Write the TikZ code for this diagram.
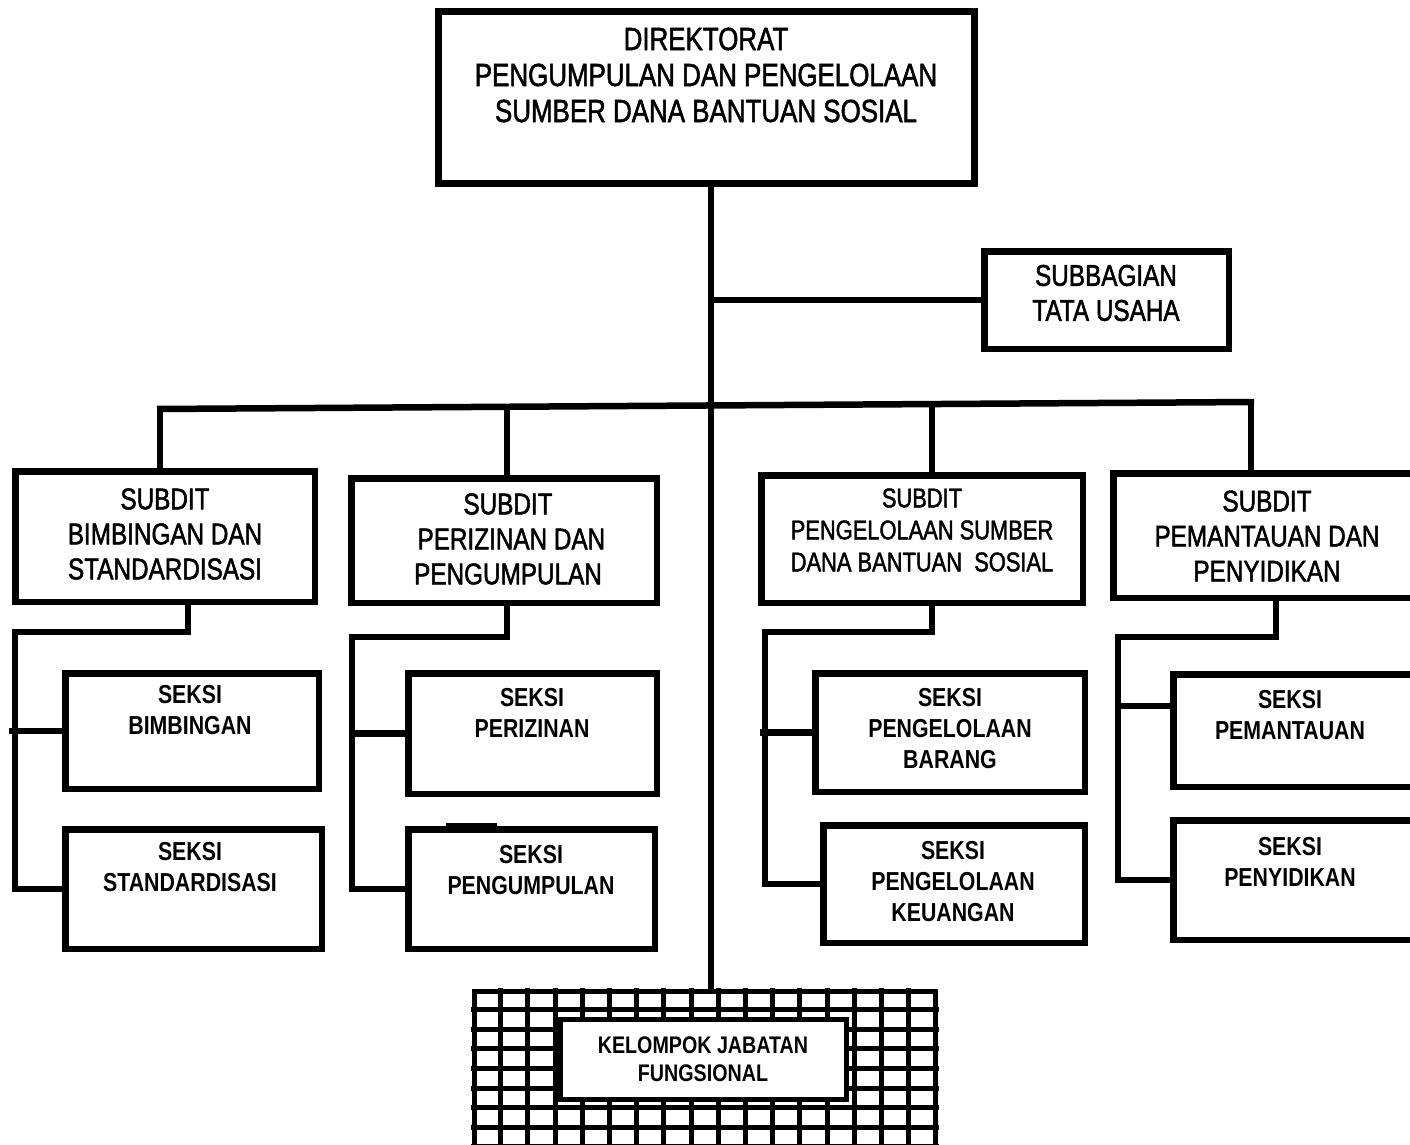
\documentclass[tikz,border=0pt]{standalone}
\usepackage{fontspec}
\setmainfont{Liberation Sans}[FakeStretch=0.82]
\newfontfamily\medf{Liberation Sans}[FakeStretch=0.81,FakeBold=1.6]
\usetikzlibrary{calc}
\tikzset{
  bx/.style={draw, line width=6.5pt, fill=white, inner sep=0pt, outer sep=0pt, rectangle},
  ln/.style={line width=6.5pt},
  gl/.style={line width=5pt},
  ttop/.style={font=\medf\fontsize{32}{36}\selectfont, align=center, inner sep=0pt},
  tsub/.style={font=\medf\fontsize{30}{35}\selectfont, align=center, inner sep=0pt},
  tsubs/.style={font=\medf\fontsize{27}{32}\selectfont, align=center, inner sep=0pt},
  tsek/.style={font=\bfseries\fontsize{26}{31}\selectfont, align=center, inner sep=0pt},
  tkjf/.style={font=\bfseries\fontsize{24}{28}\selectfont, align=center, inner sep=0pt},
}
\newcommand\mkbox[6][]{\node[bx,#1, minimum width={#5-#3-6.5}, minimum height={#6-#4-6.5}] (#2) at ({(#3+#5)/2},{(#4+#6)/2}) {};}
\begin{document}
\begin{tikzpicture}[x=1pt,y=-1pt]
\useasboundingbox (0,0) rectangle (1410,1145);
\clip (0,0) rectangle (1410,1145);
\fill[white] (0,0) rectangle (1410,1145);

% named helper coordinates
\coordinate (tx) at (711,0);
\coordinate (barL) at (157,409);
\coordinate (barR) at (1254,402);
\coordinate (d1) at (160,409);
\coordinate (d2) at (507,406.8);
\coordinate (d3) at (932,404);
\coordinate (d4) at (1251,402);

% boxes
\mkbox[line width=7pt]{top}{435}{8}{978}{187}
\mkbox{tu}{981}{248}{1232}{352}
\mkbox{sd1}{12}{468}{318}{605}
\mkbox{sd2}{348}{475}{660}{606}
\mkbox{sd3}{758}{472}{1086}{606}
\mkbox{sd4}{1110}{470}{1440}{601}
\mkbox{skA}{62}{670}{322}{792}
\mkbox{skB}{62}{826}{325}{952}
\mkbox{skC}{405}{670}{660}{797}
\mkbox{skD}{405}{826}{658}{952}
\mkbox{skE}{812}{670}{1088}{795}
\mkbox{skF}{820}{822}{1088}{946}
\mkbox{skG}{1170}{671}{1440}{790}
\mkbox{skH}{1170}{817}{1440}{943}

% grid block
\mkbox[line width=5pt]{grid}{471}{988}{939}{1160}
\foreach \i in {1,...,16} \draw[gl] ({473.5+\i*27.2},988) -- ({473.5+\i*27.2},1160);
\foreach \j in {1,...,8} \draw[gl] (471,{990+\j*19.6}) -- (939,{990+\j*19.6});
\mkbox[line width=5pt]{kjf}{557}{1016}{850}{1103}

% trunk and main branches
\draw[ln] (top.south -| tx) -- (grid.north -| tx);
\draw[ln] (tu.west) -- (tu.west -| tx);
\draw[ln] (barL) -- (barR);
\draw[ln] (d1) -- (d1 |- sd1.north);
\draw[ln] (d2) -- (d2 |- sd2.north);
\draw[ln] (d3) -- (d3 |- sd3.north);
\draw[ln] (d4) -- (d4 |- sd4.north);

% group 1
\coordinate (a1) at (188,632);
\coordinate (b1) at (15,632);
\draw[ln] (a1 |- sd1.south) -- (a1) -- (b1) -- (b1 |- skB.west) -- (skB.west);
\draw[ln] ([xshift=-6pt]b1 |- skA.west) -- (skA.west);
% group 2
\coordinate (a2) at (507,637);
\coordinate (b2) at (352,637);
\draw[ln] (a2 |- sd2.south) -- (a2) -- (b2) -- (b2 |- skD.west) -- (skD.west);
\draw[ln] (b2 |- skC.west) -- (skC.west);
\draw[ln] ($(skD.north west)+(38,-3)$) -- ++(51,0);
% group 3
\coordinate (a3) at (932,632);
\coordinate (b3) at (765,632);
\draw[ln] (a3 |- sd3.south) -- (a3) -- (b3) -- (b3 |- skF.west) -- (skF.west);
\draw[ln] ([xshift=-5pt]b3 |- skE.west) -- (skE.west);
% group 4
\coordinate (a4) at (1276,637);
\coordinate (b4) at (1118,637);
\coordinate (y4) at (0,706);
\draw[ln] (a4 |- sd4.south) -- (a4) -- (b4) -- (b4 |- skH.west) -- (skH.west);
\draw[ln] (b4 |- y4) -- (skG.west |- y4);

% texts
\node[ttop] (ttop) at (706,75) {DIREKTORAT\\PENGUMPULAN DAN PENGELOLAAN\\SUMBER DANA BANTUAN SOSIAL};
\node[tsub] (ttu) at (1106,293) {SUBBAGIAN\\TATA USAHA};
\node[tsub] (tsd1) at (165,534) {SUBDIT\\BIMBINGAN DAN\\STANDARDISASI};
\node[tsub] (tsd2) at (508,539) {SUBDIT\\\ PERIZINAN DAN\\PENGUMPULAN};
\node[tsubs] (tsd3) at (922,530) {SUBDIT\\PENGELOLAAN SUMBER\\DANA BANTUAN\ \ SOSIAL};
\node[tsub] (tsd4) at (1267,536) {SUBDIT\\PEMANTAUAN DAN\\PENYIDIKAN};
\node[tsek] (tA) at (190,710) {SEKSI\\BIMBINGAN};
\node[tsek] (tB) at (190,867) {SEKSI\\STANDARDISASI};
\node[tsek] (tC) at (532,713) {SEKSI\\PERIZINAN};
\node[tsek] (tD) at (531,870) {SEKSI\\PENGUMPULAN};
\node[tsek] (tE) at (950,729) {SEKSI\\PENGELOLAAN\\BARANG};
\node[tsek] (tF) at (953,882) {SEKSI\\PENGELOLAAN\\KEUANGAN};
\node[tsek] (tG) at (1290,715) {SEKSI\\PEMANTAUAN};
\node[tsek] (tH) at (1290,862) {SEKSI\\PENYIDIKAN};
\node[tkjf] (tK) at (703,1059) {KELOMPOK JABATAN\\FUNGSIONAL};
\end{tikzpicture}
\end{document}
